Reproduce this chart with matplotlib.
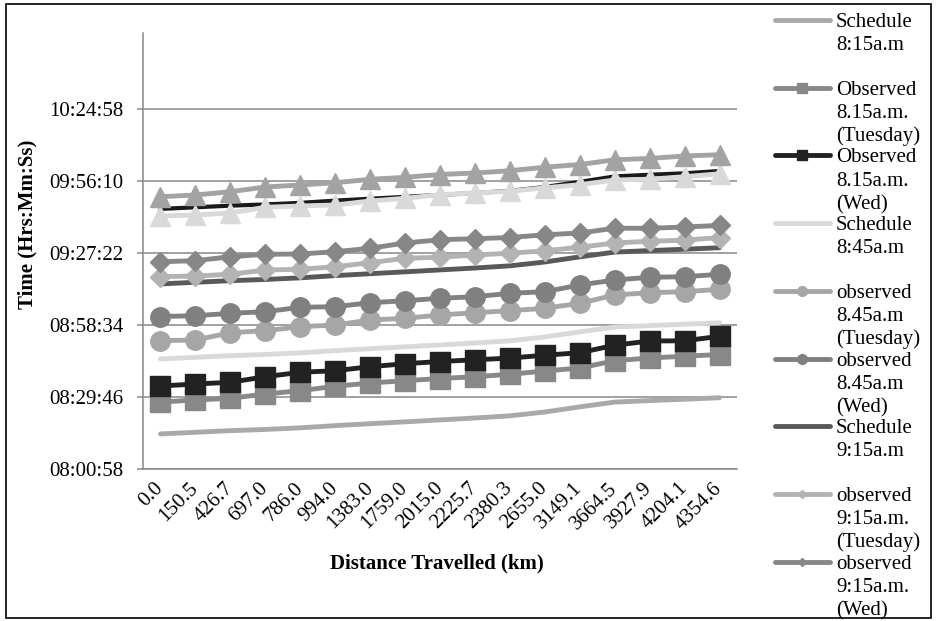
import matplotlib
matplotlib.use('Agg')
import matplotlib.pyplot as plt
from matplotlib.lines import Line2D
from matplotlib.patches import Rectangle
from matplotlib.ticker import FuncFormatter

plt.rcParams['font.family'] = ['Liberation Serif', 'DejaVu Serif']

distance = ['0.0', '150.5', '426.7', '697.0', '786.0', '994.0', '1383.0', '1759.0',
            '2015.0', '2225.7', '2380.3', '2655.0', '3149.1', '3664.5', '3927.9',
            '4204.1', '4354.6']

sched_815 = ['8:15:00', '8:15:39', '8:16:18', '8:16:47', '8:17:26', '8:18:19', '8:19:05', '8:19:50',
             '8:20:36', '8:21:22', '8:22:14', '8:23:46', '8:25:49', '8:27:44', '8:28:20', '8:28:52', '8:29:29']
obs_815_tue = ['8:27:46', '8:28:34', '8:29:15', '8:30:58', '8:32:17', '8:34:03', '8:35:22', '8:36:17',
               '8:37:10', '8:37:53', '8:38:51', '8:40:10', '8:41:22', '8:44:17', '8:45:22', '8:46:05', '8:46:46']
obs_815_wed = ['8:34:10', '8:34:58', '8:35:39', '8:37:53', '8:39:39', '8:40:17', '8:41:53', '8:43:05',
               '8:43:58', '8:44:39', '8:45:20', '8:46:29', '8:47:29', '8:50:29', '8:52:10', '8:52:15', '8:54:03']
sched_845 = ['8:45:00', '8:45:39', '8:46:18', '8:46:47', '8:47:26', '8:48:19', '8:49:05', '8:49:50',
             '8:50:36', '8:51:22', '8:52:14', '8:53:46', '8:55:49', '8:57:44', '8:58:20', '8:58:52', '8:59:29']
obs_845_tue = ['8:52:17', '8:52:34', '8:55:29', '8:56:17', '8:57:53', '8:58:34', '9:00:34', '9:01:15',
               '9:02:34', '9:03:29', '9:04:17', '9:05:15', '9:07:15', '9:10:34', '9:11:29', '9:11:53', '9:12:51']
obs_845_wed = ['9:01:58', '9:02:17', '9:03:15', '9:03:53', '9:05:39', '9:05:53', '9:07:29', '9:08:17',
               '9:09:15', '9:09:53', '9:11:15', '9:11:53', '9:14:34', '9:16:34', '9:17:39', '9:17:53', '9:18:51']
sched_915 = ['9:15:00', '9:15:39', '9:16:18', '9:16:47', '9:17:26', '9:18:19', '9:19:05', '9:19:50',
             '9:20:36', '9:21:22', '9:22:14', '9:23:46', '9:25:49', '9:27:44', '9:28:20', '9:28:52', '9:29:29']
obs_915_tue = ['9:17:53', '9:18:10', '9:18:51', '9:20:34', '9:20:51', '9:21:53', '9:23:29', '9:25:15',
               '9:25:41', '9:26:34', '9:27:17', '9:28:15', '9:29:41', '9:31:22', '9:32:05', '9:32:29', '9:33:34']
obs_915_wed = ['9:23:53', '9:24:17', '9:25:53', '9:26:51', '9:26:58', '9:27:53', '9:29:15', '9:31:22',
               '9:32:41', '9:33:05', '9:33:34', '9:34:39', '9:35:22', '9:37:17', '9:37:15', '9:37:46', '9:38:24']
sched_945 = ['9:45:00', '9:45:39', '9:46:18', '9:46:47', '9:47:26', '9:48:19', '9:49:05', '9:49:50',
             '9:50:36', '9:51:22', '9:52:14', '9:53:46', '9:55:49', '9:58:00', '9:58:40', '9:59:15', '10:00:10']
obs_945_tue = ['9:42:10', '9:42:34', '9:43:22', '9:45:39', '9:46:10', '9:46:34', '9:48:10', '9:49:15',
               '9:50:41', '9:51:22', '9:52:03', '9:53:27', '9:54:41', '9:56:34', '9:56:53', '9:57:53', '9:59:03']
obs_945_wed = ['9:49:53', '9:50:34', '9:51:53', '9:53:46', '9:54:34', '9:55:29', '9:56:51', '9:57:39',
               '9:58:46', '9:59:22', '10:00:17', '10:01:41', '10:02:46', '10:04:39', '10:05:12', '10:06:10', '10:06:41']

labels = ['Schedule\n8:15a.m', 'Observed\n8.15a.m.\n(Tuesday)', 'Observed\n8.15a.m.\n(Wed)',
          'Schedule\n8:45a.m', 'observed\n8.45a.m\n(Tuesday)', 'observed\n8.45a.m\n(Wed)',
          'Schedule\n9:15a.m', 'observed\n9:15a.m.\n(Tuesday)', 'observed\n9:15a.m.\n(Wed)',
          'Schedule\n9:45a.m', 'observed\n9:45a.m.\n(Tuesday)', 'observed\n9:45a.m.\n(Wed)']


def secs(t):
    h, m, s = map(int, t.split(':'))
    return h * 3600 + m * 60 + s


def hms(v, pos=None):
    v = int(round(v))
    return '%02d:%02d:%02d' % (v // 3600, v % 3600 // 60, v % 60)


data = [sched_815, obs_815_tue, obs_815_wed, sched_845, obs_845_tue, obs_845_wed,
        sched_915, obs_915_tue, obs_915_wed, sched_945, obs_945_tue, obs_945_wed]

# colour, marker, marker size, line width, legend marker size
styles = [
    ('#a9a9a9', None, 0, 3.5, 0),
    ('#888888', 's', 14, 3.5, 7),
    ('#222222', 's', 14, 3.5, 7),
    ('#d9d9d9', None, 0, 3.5, 0),
    ('#a6a6a6', 'o', 14, 3.5, 7),
    ('#808080', 'o', 14, 3.5, 7),
    ('#595959', None, 0, 3.5, 0),
    ('#b3b3b3', 'D', 10.5, 3.5, 4.5),
    ('#878787', 'D', 10.5, 3.5, 4.5),
    ('#1a1a1a', None, 0, 3.0, 0),
    ('#d9d9d9', '^', 14, 3.5, 6),
    ('#a3a3a3', '^', 14, 3.5, 6),
]

W, H = 937, 621
fx = lambda x: x / W
fy = lambda y: 1 - y / H

fig = plt.figure(figsize=(W / 100, H / 100), dpi=100)
ax = fig.add_axes([fx(143), fy(469), (737 - 143) / W, (469 - 33) / H])

x = list(range(len(distance)))
for vals, (col, mk, ms, lw, _) in zip(data, styles):
    ax.plot(x, [secs(v) for v in vals], color=col, lw=lw, marker=mk, ms=ms,
            mec=col, mfc=col, solid_joinstyle='round', solid_capstyle='round')

y0, step = secs('08:00:58'), 1728
ax.set_ylim(y0, y0 + 6 * step + 96)
ax.set_yticks([y0 + k * step for k in range(6)])
ax.yaxis.set_major_formatter(FuncFormatter(hms))
ax.set_xlim(-0.5, len(distance) - 0.5)
ax.set_xticks(x)
ax.set_xticklabels(distance, rotation=45, ha='right', va='center', rotation_mode='anchor')

ax.grid(axis='y', color='#888888', lw=1.1)
ax.set_axisbelow(True)
for side in ['top', 'right']:
    ax.spines[side].set_visible(False)
for side in ['left', 'bottom']:
    ax.spines[side].set_color('#888888')
    ax.spines[side].set_linewidth(1.1)
ax.tick_params(axis='y', length=4.5, color='#888888', width=1.1, pad=9.5, labelsize=15)
ax.tick_params(axis='x', length=0, pad=12, labelsize=15)

fig.text(fx(27), fy(224), 'Time (Hrs:Mm:Ss)', rotation=90, ha='center', va='center',
         fontsize=15, fontweight='bold')
fig.text(fx(437), fy(563), 'Distance Travelled (km)', ha='center', va='center',
         fontsize=15, fontweight='bold')

# legend on the right; only the first nine entries fit in the chart area
for k in range(9):
    col, mk, ms, lw, lms = styles[k]
    yc = 20 + 67.7 * k
    fig.add_artist(Line2D([fx(775), fx(802.5), fx(830)], [fy(yc)] * 3, color=col, lw=lw,
                          marker=mk, ms=lms, mec=col, mfc=col, markevery=[1],
                          solid_capstyle='round'))
    for j, line in enumerate(labels[k].split('\n')):
        fig.text(fx(836), fy(yc + 23.3 * j + 7), line, fontsize=15, ha='left', va='baseline')

fig.add_artist(Rectangle((fx(6), fy(618)), fx(931) - fx(6), fy(4) - fy(618),
                         fill=False, edgecolor='black', lw=1.2, transform=fig.transFigure))

fig.savefig('out.png', dpi=100)
